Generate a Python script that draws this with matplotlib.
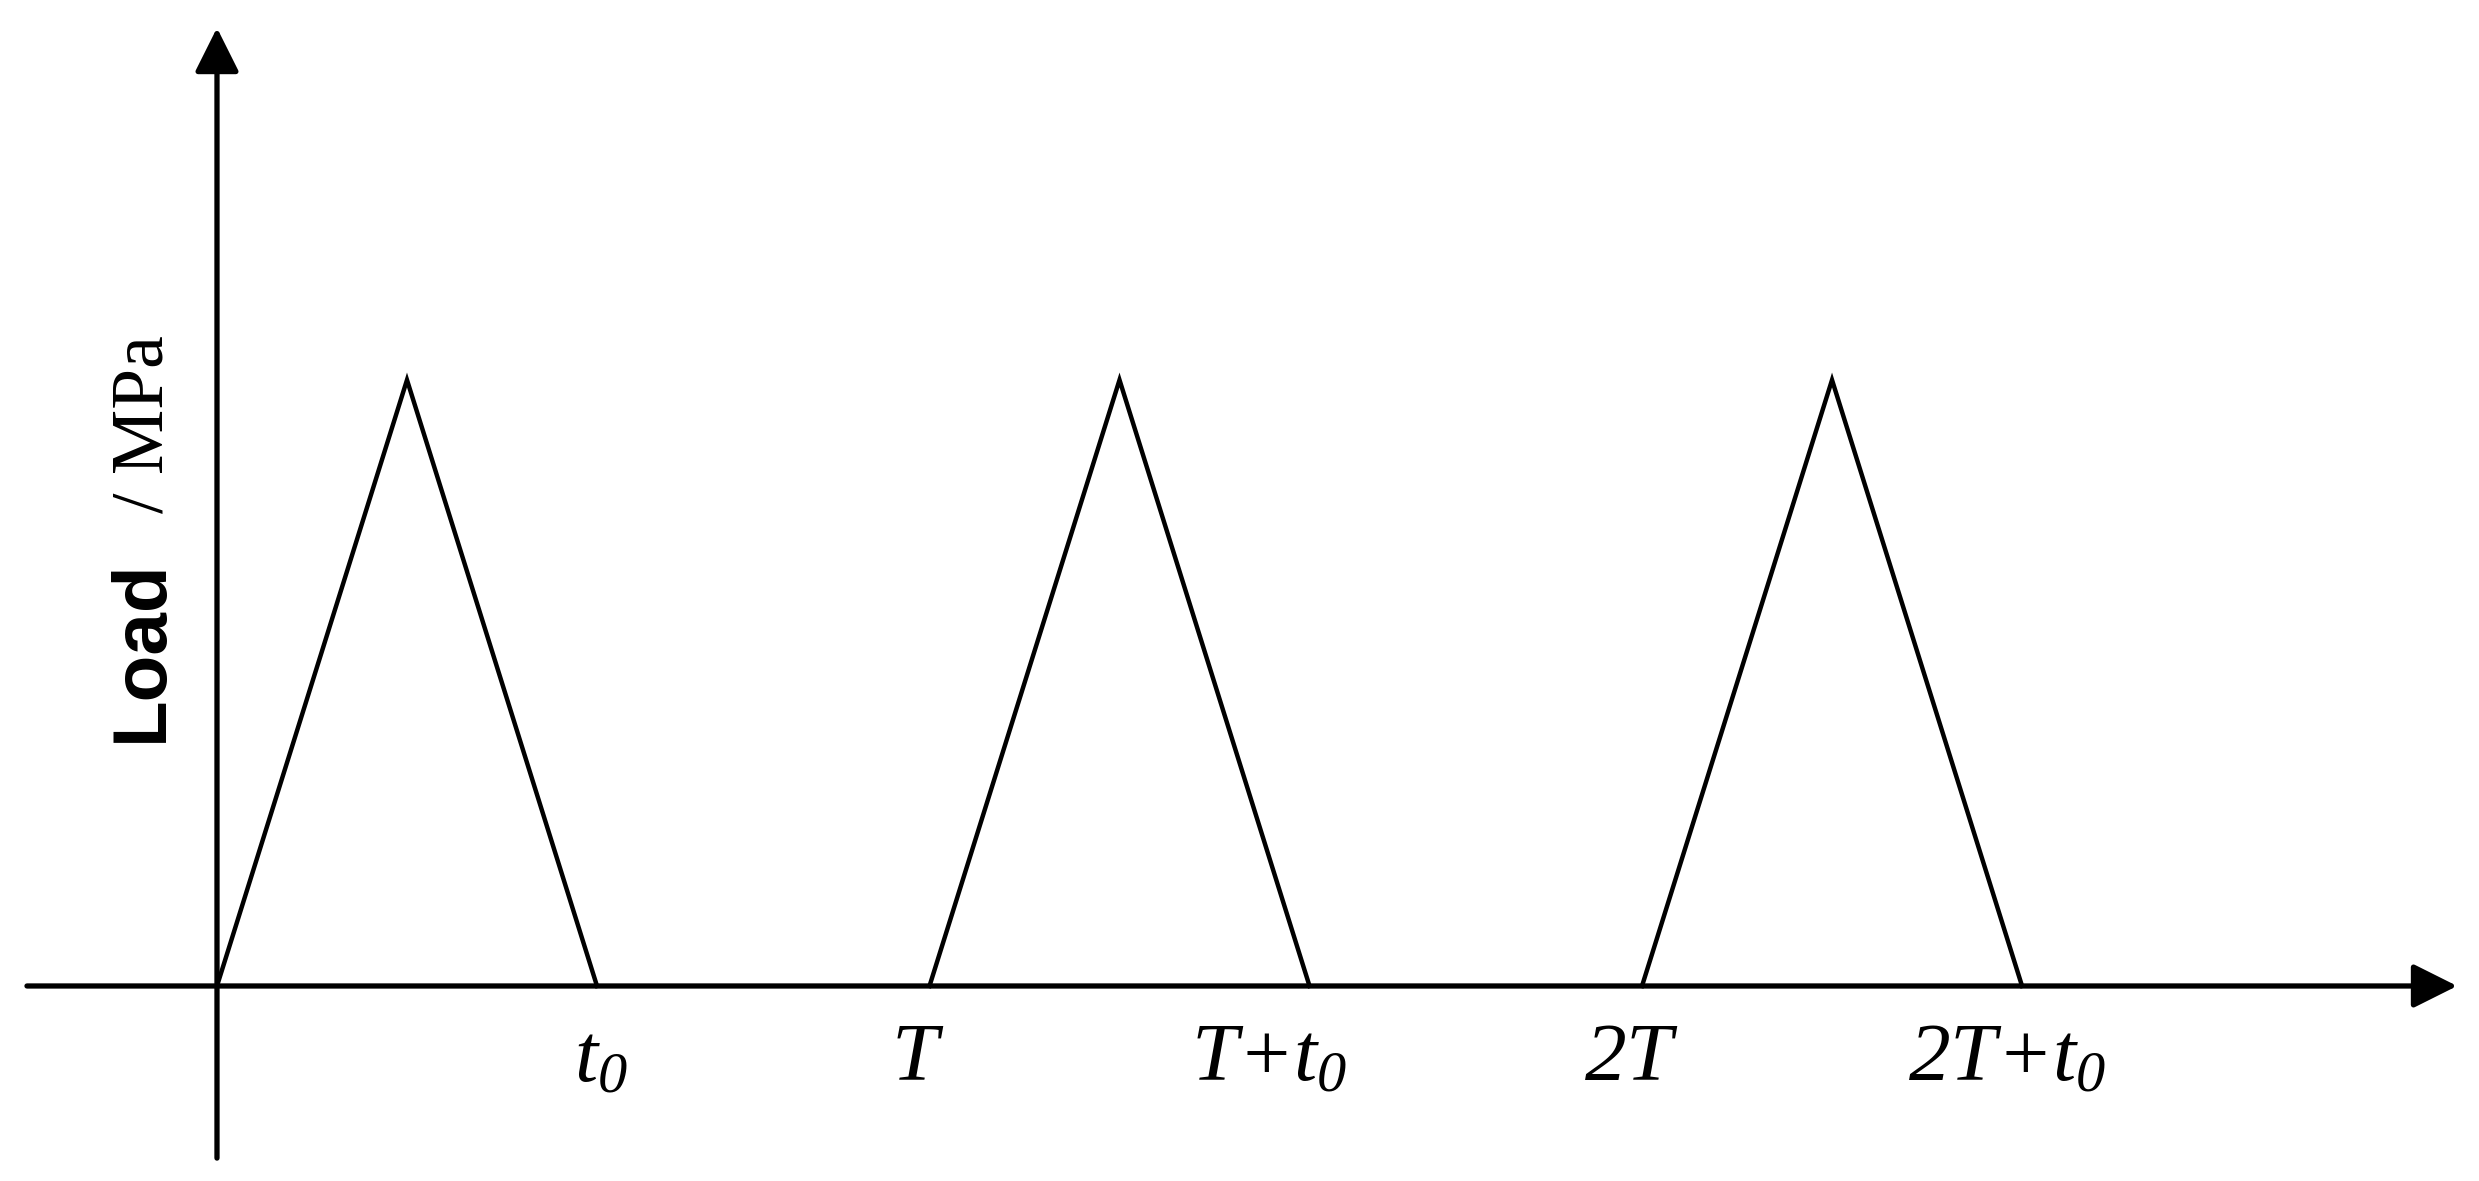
import matplotlib
matplotlib.use("Agg")
import matplotlib.pyplot as plt

# triangular load cycles (time unit: t0 = 2, period T = 3.75)
cycle_start = [0.0, 3.75, 7.5]
cycle_peak = [1.0, 4.75, 8.5]
cycle_end = [2.0, 5.75, 9.5]
peak_load = 1.0

tick_pos = [2.0, 3.75, 5.75, 7.5, 9.5]
tick_labels = [r"$t_0$", r"$T$", r"$T{+}t_0$", r"$2T$", r"$2T{+}t_0$"]
label_nudge = [4, -12, -40, -11, -15]  # px, horizontal shift of each label

# everything in the time labels is italic Times-like, digits too
plt.rcParams["mathtext.fontset"] = "custom"
plt.rcParams["mathtext.rm"] = "Liberation Serif:italic"
plt.rcParams["mathtext.it"] = "Liberation Serif:italic"

fig = plt.figure(figsize=(24.79, 11.81), dpi=100)
ax = fig.add_axes([0, 0, 1, 1])
ax.set_xlim(-1.142, 11.905)
ax.set_ylim(-0.3218, 1.627)
ax.axis("off")

# axes with arrows
arrow = dict(arrowstyle="-|>,head_length=0.4,head_width=0.2", mutation_scale=68,
             color="black", lw=3.8, shrinkA=0, shrinkB=0)
ax.annotate("", xy=(11.79, 0), xytext=(-1.0, 0), arrowprops=arrow)
ax.annotate("", xy=(0, 1.581), xytext=(0, -0.284), arrowprops=arrow)

# load triangles
for s, p, e in zip(cycle_start, cycle_peak, cycle_end):
    ax.plot([s, p, e], [0, peak_load, 0], color="black", lw=3.2,
            solid_joinstyle="miter")

# time labels
for x, lab, dx in zip(tick_pos, tick_labels, label_nudge):
    ax.annotate(lab, xy=(x, -0.155), xytext=(dx * 0.72, 0), textcoords="offset points",
                ha="center", va="baseline", fontsize=60)

# y label
ax.text(-0.289, 0.403, "Load", rotation=90, rotation_mode="anchor",
        ha="left", va="baseline", fontsize=55, fontweight="bold",
        family="Liberation Sans")
ax.text(-0.289, 0.780, "/ MPa", rotation=90, rotation_mode="anchor",
        ha="left", va="baseline", fontsize=53, family="Liberation Serif")

fig.savefig("out.png", dpi=100)
